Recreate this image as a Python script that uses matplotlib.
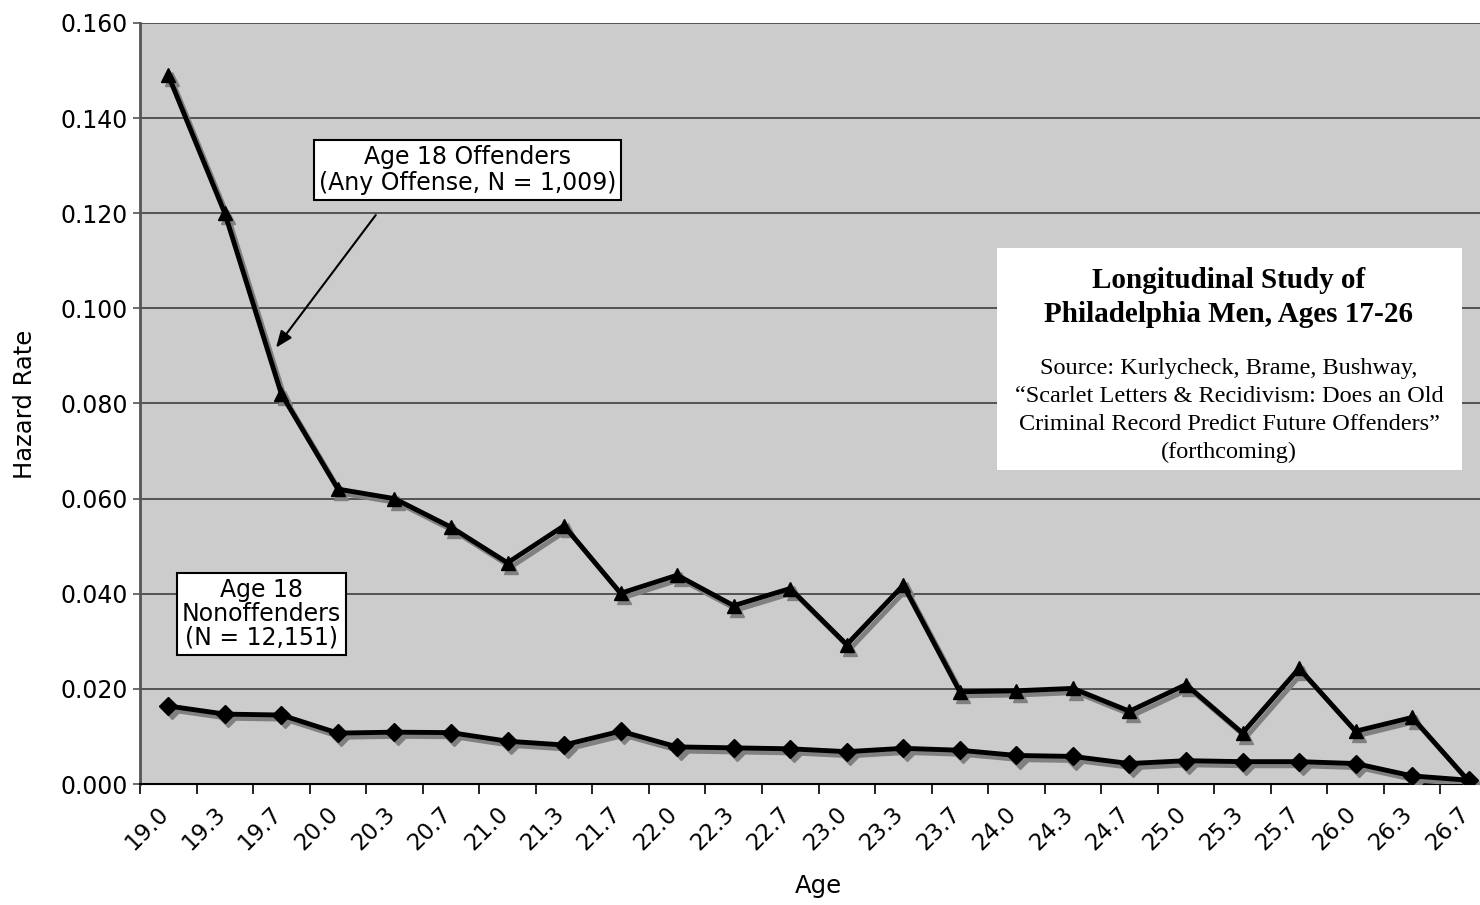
import numpy as np
import matplotlib.pyplot as plt
from matplotlib.transforms import ScaledTranslation

# Hazard rates by age
ages = ['19.0', '19.3', '19.7', '20.0', '20.3', '20.7', '21.0', '21.3',
        '21.7', '22.0', '22.3', '22.7', '23.0', '23.3', '23.7', '24.0',
        '24.3', '24.7', '25.0', '25.3', '25.7', '26.0', '26.3', '26.7']
offenders = [0.149, 0.120, 0.082, 0.062, 0.060, 0.054, 0.0465, 0.0543,
             0.0401, 0.0439, 0.0375, 0.0411, 0.0293, 0.0418, 0.0194, 0.0196,
             0.0201, 0.0153, 0.0209, 0.0107, 0.0243, 0.0111, 0.0140, 0.0006]
nonoffenders = [0.0164, 0.0147, 0.0145, 0.0107, 0.0109, 0.0108, 0.0090, 0.0082,
                0.0111, 0.0078, 0.0076, 0.0074, 0.0068, 0.0075, 0.0071, 0.0060,
                0.0058, 0.0043, 0.0049, 0.0047, 0.0047, 0.0043, 0.0017, 0.0008]

W, H = 1480, 905
fig = plt.figure(figsize=(W / 100, H / 100), dpi=100)
ax = fig.add_axes([140 / W, 121 / H, 1357 / W, 761 / H])
ax.set_facecolor('#cccccc')

x = np.arange(len(ages))

# gray drop shadow under each series
shadow = ax.transData + ScaledTranslation(2.5 / 72, -3 / 72, fig.dpi_scale_trans)
ax.plot(x, offenders, color='#808080', lw=3.5, marker='^', ms=10, transform=shadow, zorder=3)
ax.plot(x, nonoffenders, color='#808080', lw=3.5, marker='D', ms=9, transform=shadow, zorder=3)
ax.plot(x, offenders, color='black', lw=3.5, marker='^', ms=10, zorder=4)
ax.plot(x, nonoffenders, color='black', lw=3.5, marker='D', ms=9, zorder=4)

ax.set_xlim(-0.5, len(ages) - 0.5)
ax.set_ylim(0, 0.16)
ax.set_yticks(np.arange(0, 0.161, 0.02))
ax.set_yticklabels([f'{v:.3f}' for v in np.arange(0, 0.161, 0.02)], fontsize=17)
ax.grid(axis='y', color='#333333', lw=1.1)
ax.set_axisbelow(True)

# category ticks sit between points; rotated labels end just left of each point
ax.set_xticks(np.arange(-0.5, len(ages), 1))
ax.set_xticklabels([])
ax.set_xticks(x - 0.2, minor=True)
ax.set_xticklabels(ages, minor=True, rotation=45, ha='right', va='top',
                   rotation_mode='anchor', fontsize=16.5)
ax.tick_params(axis='x', which='minor', length=0, pad=13)
ax.tick_params(axis='x', which='major', length=7, width=1.2, color='black')
ax.tick_params(axis='y', length=5, width=1.2, color='#555555', pad=4)

for s in ['top', 'right']:
    ax.spines[s].set_visible(False)
ax.spines['left'].set_color('#555555')
ax.spines['left'].set_linewidth(2)
ax.spines['bottom'].set_color('black')
ax.spines['bottom'].set_linewidth(1.5)

fig.text(25 / W, 1 - 404 / H, 'Hazard Rate', rotation=90, ha='center', va='center', fontsize=17.5)
fig.text(818 / W, 1 - 886 / H, 'Age', ha='center', va='center', fontsize=17.5)

box = dict(boxstyle='square,pad=0.2', fc='white', ec='black', lw=1.5)
ax.text((468 - 169) / 56.5, (784 - 170) / 4755, 'Age 18 Offenders\n(Any Offense, N = 1,009)',
        ha='center', va='center', fontsize=17, bbox=box, zorder=6, linespacing=1.1)
ax.text((262 - 169) / 56.5, (784 - 614) / 4755, 'Age 18\nNonoffenders\n(N = 12,151)',
        ha='center', va='center', fontsize=17, bbox=box, zorder=6, linespacing=1.0)
ax.annotate('', xy=((275 - 169) / 56.5, (784 - 350) / 4755),
            xytext=((378 - 169) / 56.5, (784 - 213) / 4755),
            arrowprops=dict(arrowstyle='-|>,head_length=1.0,head_width=0.4', color='black', lw=1.5),
            zorder=6)

# study description panel
fig.patches.append(plt.Rectangle((997 / W, 1 - 470 / H), 465 / W, 222 / H,
                                 transform=fig.transFigure, fc='white', ec='none', zorder=5))
cx = 1229 / W
serif = 'Liberation Serif'
fig.text(cx, 1 - 280 / H, 'Longitudinal Study of', ha='center', va='center',
         fontsize=21, fontweight='bold', family=serif, zorder=6)
fig.text(cx, 1 - 315 / H, 'Philadelphia Men, Ages 17-26', ha='center', va='center',
         fontsize=21, fontweight='bold', family=serif, zorder=6)
src = ['Source: Kurlycheck, Brame, Bushway,',
       '\u201cScarlet Letters & Recidivism: Does an Old',
       'Criminal Record Predict Future Offenders\u201d',
       '(forthcoming)']
for i, line in enumerate(src):
    fig.text(cx, 1 - (368 + 28 * i) / H, line, ha='center', va='center',
             fontsize=17.5, family=serif, zorder=6)

fig.savefig('out.png', dpi=100)
